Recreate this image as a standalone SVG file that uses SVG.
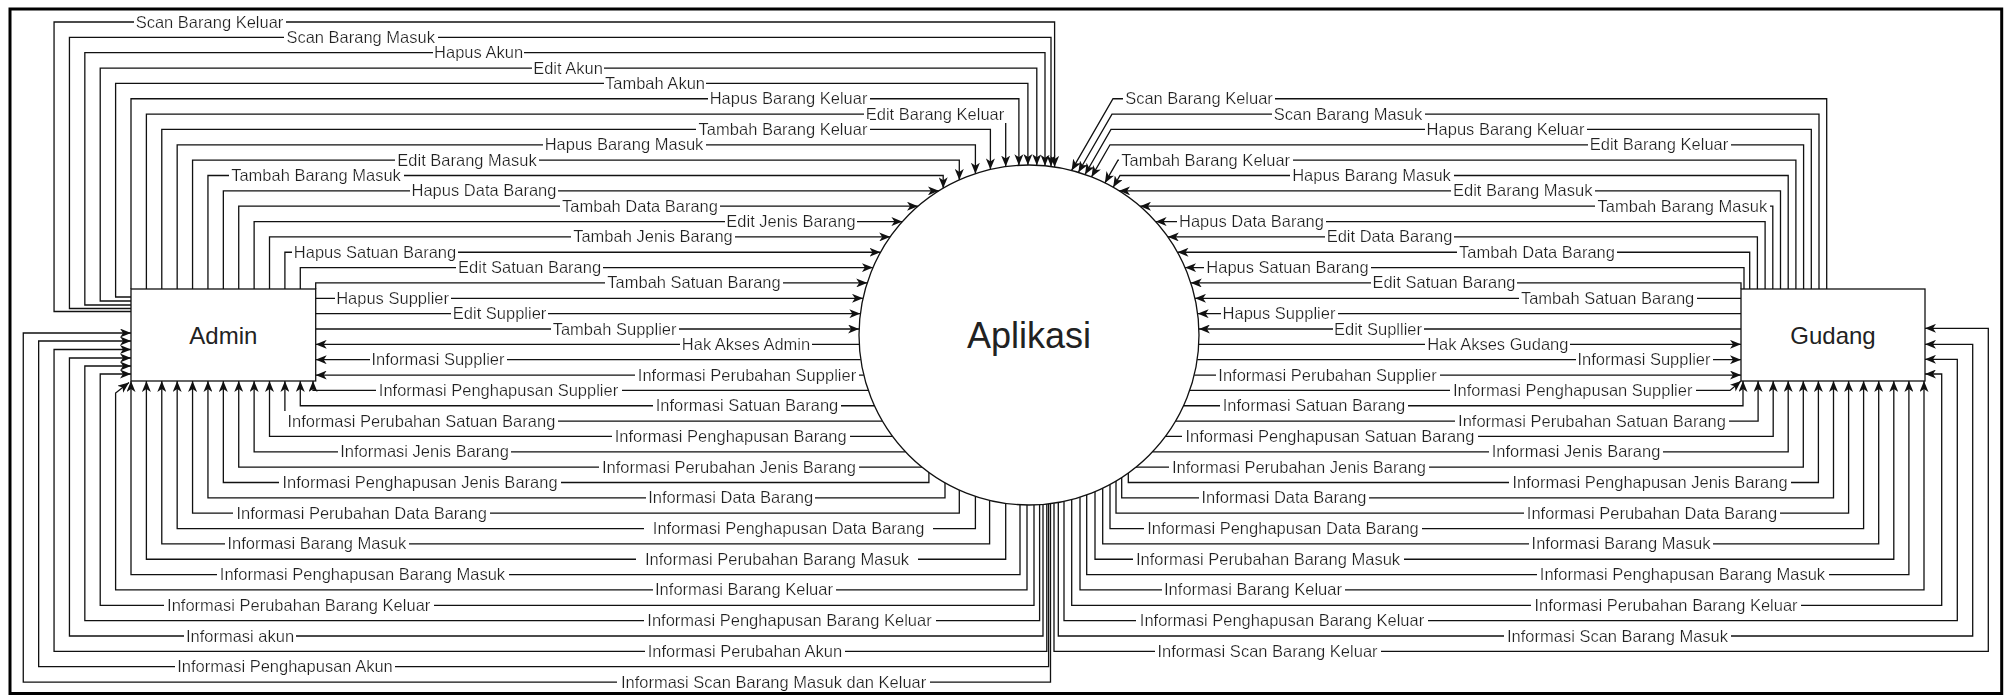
<svg xmlns="http://www.w3.org/2000/svg" width="2011" height="696" viewBox="0 0 2011 696">
<defs>
<style>
.c{fill:none;stroke:#111;stroke-width:1.3}
.a{marker-end:url(#ah)}
.t{font-family:"Liberation Sans",Arial,sans-serif;font-size:16.5px;fill:#222;text-anchor:middle;filter:url(#lb)}
.w{filter:url(#lbw)}
.n{fill:#fff;stroke:#111;stroke-width:1.3}
.nt{font-family:"Liberation Sans",Arial,sans-serif;fill:#222;text-anchor:middle}
</style>
<marker id="ah" viewBox="0 0 11 9" refX="11" refY="4.5" markerWidth="11" markerHeight="9" markerUnits="userSpaceOnUse" orient="auto"><path d="M0,0 L11,4.5 L0,9 L3,4.5 Z" fill="#111"/></marker>
<filter id="lb" x="-0.01" y="0" width="1.02" height="1"><feFlood flood-color="#fff"/><feComposite in="SourceGraphic"/></filter>
<filter id="lbw" x="-0.03" y="0" width="1.06" height="1"><feFlood flood-color="#fff"/><feComposite in="SourceGraphic"/></filter>
</defs>
<rect width="2011" height="696" fill="#fff"/>
<rect x="10" y="9" width="1991.7" height="684.5" fill="none" stroke="#000" stroke-width="3"/>

<g id="connectors">
<!-- Admin to Aplikasi -->
<path class="c a" d="M131,311.5H54.05V22H1054.6V166.9"/>
<path class="c a" d="M131,308.5H69.44V37.35H1051V166.4"/>
<path class="c a" d="M131,305H84.83V52.7H1045V165.8"/>
<path class="c a" d="M131,301H100.22V68.05H1036.8V165.2"/>
<path class="c a" d="M131,297H115.61V83.4H1027.9V165"/>
<path class="c a" d="M131,289V98.75H1018.9V165.3"/>
<path class="c a" d="M146.39,289V114.1H1005.7V166.6"/>
<path class="c a" d="M161.78,289V129.45H990.4V169.4"/>
<path class="c a" d="M177.17,289V144.8H975.4V173.7"/>
<path class="c a" d="M192.56,289V160.15H959.3V179.9"/>
<path class="c a" d="M207.95,289V175.5H943.2V188.2"/>
<path class="c a" d="M223.34,289V190.85H938.9"/>
<path class="c a" d="M238.73,289V206.2H918"/>
<path class="c a" d="M254.12,289V221.55H902.4"/>
<path class="c a" d="M269.51,289V236.9H890.2"/>
<path class="c a" d="M284.9,289V252.25H880.5"/>
<path class="c a" d="M300.29,289V267.6H872.9"/>
<path class="c a" d="M315.7,289V282.95H867.2"/>
<path class="c a" d="M315.7,298.3H863"/>
<path class="c a" d="M315.7,313.65H860.35"/>
<path class="c a" d="M315.7,329H859.1"/>
<!-- Aplikasi to Admin -->
<path class="c a" d="M859.3,344.35H315.7"/>
<path class="c a" d="M860.8,359.7H315.7"/>
<path class="c a" d="M863.8,375.05H315.7"/>
<path class="c a" d="M868.3,390.4H313V381"/>
<path class="c a" d="M874.4,405.75H300.29V381"/>
<path class="c a" d="M882.4,421.1H284.9V381"/>
<path class="c a" d="M892.6,436.45H269.51V381"/>
<path class="c a" d="M905.5,451.8H254.12V381"/>
<path class="c a" d="M922.1,467.15H238.73V381"/>
<path class="c a" d="M928.9,472.4V482.5H223.34V381"/>
<path class="c a" d="M945,482.8V497.85H207.95V381"/>
<path class="c a" d="M959.3,490.1V513.2H192.56V381"/>
<path class="c a" d="M975.4,496.3V528.55H177.17V381"/>
<path class="c a" d="M989.6,500.4V543.9H161.78V381"/>
<path class="c a" d="M1005.7,503.4V559.25H146.39V381"/>
<path class="c a" d="M1020,504.8V574.6H131V381"/>
<path class="c a" d="M1027,505V589.95H115.61V393L129,382.5"/>
<path class="c a" d="M1034,505V605.3H100.22V374H131"/>
<path class="c a" d="M1039.6,504.7V620.65H84.83V366H131"/>
<path class="c a" d="M1043,504.4V636H69.44V358H131"/>
<path class="c a" d="M1046.8,504.1V651.35H54.05V349.5H131"/>
<path class="c a" d="M1048.6,503.9V666.7H38.66V341H131"/>
<path class="c a" d="M1050.5,503.6V682.05H23.27V333H131"/>
<!-- Gudang to Aplikasi -->
<path class="c a" d="M1826.7,289V98.75H1113L1071.6,170.4"/>
<path class="c a" d="M1819,289V114.1H1112L1078.4,172.3"/>
<path class="c a" d="M1811.3,289V129.45H1111L1085,174.5"/>
<path class="c a" d="M1803.6,289V144.8H1110L1091.5,176.9"/>
<path class="c a" d="M1795.9,289V160.15H1118L1104.9,182.9"/>
<path class="c a" d="M1788.2,289V175.5H1120L1113.2,187.3"/>
<path class="c a" d="M1780.5,289V190.85H1119.1"/>
<path class="c a" d="M1772.8,289V206.2H1140"/>
<path class="c a" d="M1765.1,289V221.55H1155.6"/>
<path class="c a" d="M1757.4,289V236.9H1167.8"/>
<path class="c a" d="M1749.7,289V252.25H1177.5"/>
<path class="c a" d="M1744,289V267.6H1185.1"/>
<path class="c a" d="M1741,289V282.95H1190.8"/>
<path class="c a" d="M1741,298.3H1195"/>
<path class="c a" d="M1741,313.65H1197.65"/>
<path class="c a" d="M1741,329H1198.9"/>
<!-- Aplikasi to Gudang -->
<path class="c a" d="M1198.7,344.35H1741"/>
<path class="c a" d="M1197.2,359.7H1741"/>
<path class="c a" d="M1194.2,375.05H1741"/>
<path class="c a" d="M1189.7,390.4H1730L1741,381"/>
<path class="c a" d="M1183.6,405.75H1743V381"/>
<path class="c a" d="M1175.6,421.1H1758.1V381"/>
<path class="c a" d="M1165.4,436.45H1773.2V381"/>
<path class="c a" d="M1152.5,451.8H1788.2V381"/>
<path class="c a" d="M1135.9,467.15H1803.3V381"/>
<path class="c a" d="M1128.3,473V482.5H1818.4V381"/>
<path class="c a" d="M1121.7,477.5V497.85H1833.5V381"/>
<path class="c a" d="M1116,481.1V513.2H1848.6V381"/>
<path class="c a" d="M1110,484.5V528.55H1863.6V381"/>
<path class="c a" d="M1102.7,488.2V543.9H1878.7V381"/>
<path class="c a" d="M1095,491.7V559.25H1893.8V381"/>
<path class="c a" d="M1086.7,494.9V574.6H1908.9V381"/>
<path class="c a" d="M1080,497.2V589.95H1924V381"/>
<path class="c a" d="M1071.7,499.6V605.3H1941.7V374H1925"/>
<path class="c a" d="M1064,501.4V620.65H1957.3V359.3H1925"/>
<path class="c a" d="M1058.3,502.5V636H1972.7V344.3H1925"/>
<path class="c a" d="M1054,503.2V651.35H1988.3V328.3H1925"/>

<!-- flow labels, Admin side -->
<text class="t" x="209.5" y="27.5">Scan Barang Keluar</text>
<text class="t" x="360.7" y="42.85">Scan Barang Masuk</text>
<text class="t" x="478.6" y="58.2">Hapus Akun</text>
<text class="t" x="568" y="73.55">Edit Akun</text>
<text class="t" x="655" y="88.9">Tambah Akun</text>
<text class="t" x="788.6" y="104.25">Hapus Barang Keluar</text>
<text class="t" x="935" y="119.6">Edit Barang Keluar</text>
<text class="t" x="783" y="134.95">Tambah Barang Keluar</text>
<text class="t" x="624" y="150.3">Hapus Barang Masuk</text>
<text class="t" x="467" y="165.65">Edit Barang Masuk</text>
<text class="t" x="316" y="181">Tambah Barang Masuk</text>
<text class="t" x="484" y="196.35">Hapus Data Barang</text>
<text class="t" x="640" y="211.7">Tambah Data Barang</text>
<text class="t" x="791" y="227.05">Edit Jenis Barang</text>
<text class="t" x="653" y="242.4">Tambah Jenis Barang</text>
<text class="t" x="375" y="257.75">Hapus Satuan Barang</text>
<text class="t" x="529.6" y="273.1">Edit Satuan Barang</text>
<text class="t" x="694" y="288.45">Tambah Satuan Barang</text>
<text class="t" x="392.6" y="303.8">Hapus Supplier</text>
<text class="t" x="499.6" y="319.15">Edit Supplier</text>
<text class="t" x="614.6" y="334.5">Tambah Supplier</text>
<text class="t" x="746" y="349.85">Hak Akses Admin</text>
<text class="t" x="438" y="365.2">Informasi Supplier</text>
<text class="t" x="747" y="380.55">Informasi Perubahan Supplier</text>
<text class="t" x="498.5" y="395.9">Informasi Penghapusan Supplier</text>
<text class="t" x="747" y="411.25">Informasi Satuan Barang</text>
<text class="t" x="421.4" y="426.6">Informasi Perubahan Satuan Barang</text>
<text class="t" x="730.7" y="441.95">Informasi Penghapusan Barang</text>
<text class="t" x="424.5" y="457.3">Informasi Jenis Barang</text>
<text class="t" x="729" y="472.65">Informasi Perubahan Jenis Barang</text>
<text class="t" x="420" y="488">Informasi Penghapusan Jenis Barang</text>
<text class="t" x="730.7" y="503.35">Informasi Data Barang</text>
<text class="t" x="361.7" y="518.7">Informasi Perubahan Data Barang</text>
<text class="t w" x="788.6" y="534.05">Informasi Penghapusan Data Barang</text>
<text class="t" x="316.8" y="549.4">Informasi Barang Masuk</text>
<text class="t w" x="777" y="564.75">Informasi Perubahan Barang Masuk</text>
<text class="t" x="362.5" y="580.1">Informasi Penghapusan Barang Masuk</text>
<text class="t" x="744" y="595.45">Informasi Barang Keluar</text>
<text class="t" x="298.7" y="610.8">Informasi Perubahan Barang Keluar</text>
<text class="t" x="789.5" y="626.15">Informasi Penghapusan Barang Keluar</text>
<text class="t" x="240" y="641.5">Informasi akun</text>
<text class="t" x="745" y="656.85">Informasi Perubahan Akun</text>
<text class="t" x="285" y="672.2">Informasi Penghapusan Akun</text>
<text class="t" x="773.6" y="687.55">Informasi Scan Barang Masuk dan Keluar</text>

<!-- flow labels, Gudang side -->
<text class="t" x="1199" y="104.25">Scan Barang Keluar</text>
<text class="t" x="1348" y="119.6">Scan Barang Masuk</text>
<text class="t" x="1505.5" y="134.95">Hapus Barang Keluar</text>
<text class="t" x="1659" y="150.3">Edit Barang Keluar</text>
<text class="t" x="1205.7" y="165.65">Tambah Barang Keluar</text>
<text class="t" x="1371.5" y="181">Hapus Barang Masuk</text>
<text class="t" x="1522.7" y="196.35">Edit Barang Masuk</text>
<text class="t" x="1682.4" y="211.7">Tambah Barang Masuk</text>
<text class="t" x="1251.5" y="227.05">Hapus Data Barang</text>
<text class="t" x="1389.5" y="242.4">Edit Data Barang</text>
<text class="t" x="1537" y="257.75">Tambah Data Barang</text>
<text class="t" x="1287.5" y="273.1">Hapus Satuan Barang</text>
<text class="t" x="1444" y="288.45">Edit Satuan Barang</text>
<text class="t" x="1607.6" y="303.8">Tambah Satuan Barang</text>
<text class="t" x="1279" y="319.15">Hapus Supplier</text>
<text class="t" x="1378" y="334.5">Edit Supllier</text>
<text class="t" x="1497.8" y="349.85">Hak Akses Gudang</text>
<text class="t" x="1644" y="365.2">Informasi Supplier</text>
<text class="t" x="1327.5" y="380.55">Informasi Perubahan Supplier</text>
<text class="t" x="1572.7" y="395.9">Informasi Penghapusan Supplier</text>
<text class="t" x="1314" y="411.25">Informasi Satuan Barang</text>
<text class="t" x="1592" y="426.6">Informasi Perubahan Satuan Barang</text>
<text class="t" x="1330" y="441.95">Informasi Penghapusan Satuan Barang</text>
<text class="t" x="1576" y="457.3">Informasi Jenis Barang</text>
<text class="t" x="1299" y="472.65">Informasi Perubahan Jenis Barang</text>
<text class="t" x="1650" y="488">Informasi Penghapusan Jenis Barang</text>
<text class="t" x="1284" y="503.35">Informasi Data Barang</text>
<text class="t" x="1652" y="518.7">Informasi Perubahan Data Barang</text>
<text class="t" x="1283" y="534.05">Informasi Penghapusan Data Barang</text>
<text class="t" x="1621" y="549.4">Informasi Barang Masuk</text>
<text class="t" x="1268" y="564.75">Informasi Perubahan Barang Masuk</text>
<text class="t" x="1682.5" y="580.1">Informasi Penghapusan Barang Masuk</text>
<text class="t" x="1253" y="595.45">Informasi Barang Keluar</text>
<text class="t" x="1666" y="610.8">Informasi Perubahan Barang Keluar</text>
<text class="t" x="1282" y="626.15">Informasi Penghapusan Barang Keluar</text>
<text class="t" x="1617.5" y="641.5">Informasi Scan Barang Masuk</text>
<text class="t" x="1267.5" y="656.85">Informasi Scan Barang Keluar</text>
</g>

<g id="admin">
<rect class="n" x="131" y="289" width="184.7" height="92"/>
<text class="nt" x="223.35" y="343.5" font-size="24">Admin</text>
</g>
<g id="gudang">
<rect class="n" x="1741" y="289" width="184" height="92"/>
<text class="nt" x="1833" y="343.5" font-size="24">Gudang</text>
</g>
<g id="aplikasi">
<circle class="n" cx="1029" cy="335" r="170"/>
<text class="nt" x="1029" y="347.6" font-size="36">Aplikasi</text>
</g>
</svg>
